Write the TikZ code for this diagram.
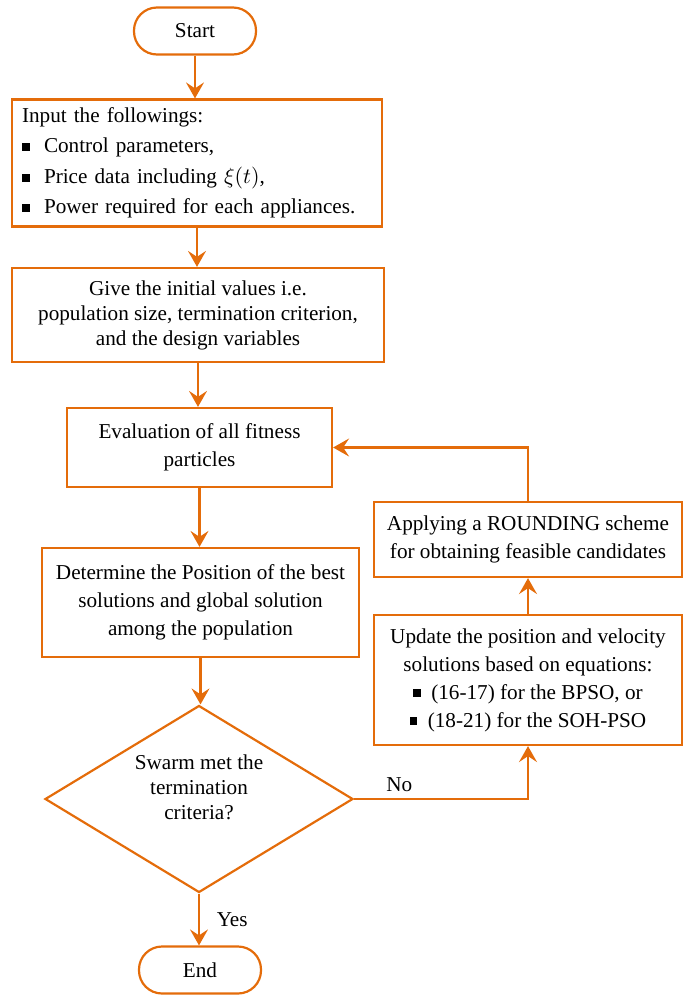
\documentclass[tikz,border=0pt]{standalone}
\usepackage{fontspec}
\setmainfont{Liberation Serif}
\usetikzlibrary{shapes.geometric,arrows.meta}
\definecolor{flowor}{RGB}{228,108,10}
\newcommand{\sqb}{\rule[0.1em]{0.36em}{0.36em}}
\begin{document}
\begin{tikzpicture}[
    x=0.5pt, y=-0.5pt,
    font=\fontsize{10.6}{14}\selectfont,
    term/.style={draw=flowor,line width=1.1pt,rounded corners=11.5pt,
      minimum width=61pt,minimum height=23.5pt,inner sep=0pt},
    proc/.style={draw=flowor,line width=1.1pt,inner sep=0pt,align=center},
    dec/.style={draw=flowor,line width=1.1pt,diamond,inner sep=0pt,
      minimum width=154pt,minimum height=93.5pt},
    link/.style={draw=flowor,line width=1.1pt,
      -{Stealth[length=8pt,width=9pt,inset=3pt]}}]
 \useasboundingbox (0,0) rectangle (683,997);
 % main column
 \node[term] (start) at (195,31) {Start};
 \node[proc,minimum width=185pt,minimum height=63.5pt,
   text width=175pt,align=left] (input) at (197,163)
   {Input the followings:\\[1pt]
    \makebox[11pt][l]{\sqb}Control parameters,\\[1.5pt]
    \makebox[11pt][l]{\sqb}Price data including $\xi(t)$,\\[1pt]
    \makebox[11pt][l]{\sqb}Power required for each appliances.};
 \node[proc,minimum width=186pt,minimum height=47pt,
   font=\fontsize{10.6}{12.5}\selectfont] (init) at (198,315)
   {Give the initial values i.e.\\
    population size, termination criterion,\\
    and the design variables};
 \node[proc,minimum width=132.5pt,minimum height=39.5pt] (eval) at (199.5,447.5)
   {Evaluation of all fitness\\particles};
 \node[proc,minimum width=158.5pt,minimum height=54.5pt] (best) at (200.5,602.5)
   {Determine the Position of the best\\
    solutions and global solution\\
    among the population};
 \node[dec] (swarm) at (199,799) {};
 \node[align=center,font=\fontsize{10.6}{12.5}\selectfont] (swarmtxt) at (199,787)
   {Swarm met the\\termination\\criteria?};
 \node[term] (end) at (200,970) {End};
 % right column
 \node[proc,minimum width=154pt,minimum height=65pt] (update) at (528,680)
   {Update the position and velocity\\
    solutions based on equations:\\
    \makebox[9pt][l]{\sqb}(16-17) for the BPSO, or\\
    \makebox[9pt][l]{\sqb}(18-21) for the SOH-PSO};
 \node[proc,minimum width=154pt,minimum height=37.5pt] (apply) at (528,539.5)
   {Applying a ROUNDING scheme\\
    for obtaining feasible candidates};
 % connectors
 \draw[link] (start.south) -- (start.south |- input.north);
 \draw[link] (input.south) -- (input.south |- init.north);
 \draw[link] (init.south) -- (init.south |- eval.north);
 \draw[link] (eval.south) -- (eval.south |- best.north);
 \draw[link] (best.south) -- (best.south |- swarm.north);
 \draw[link] (swarm.south) -- node[right=5pt] {Yes} (swarm.south |- end.north);
 \draw[link] (swarm.east) -| node[pos=0.13,above] {No} (update.south);
 \draw[link] (update) -- (apply);
 \draw[link] (apply.north) |- (eval.east);
\end{tikzpicture}
\end{document}
